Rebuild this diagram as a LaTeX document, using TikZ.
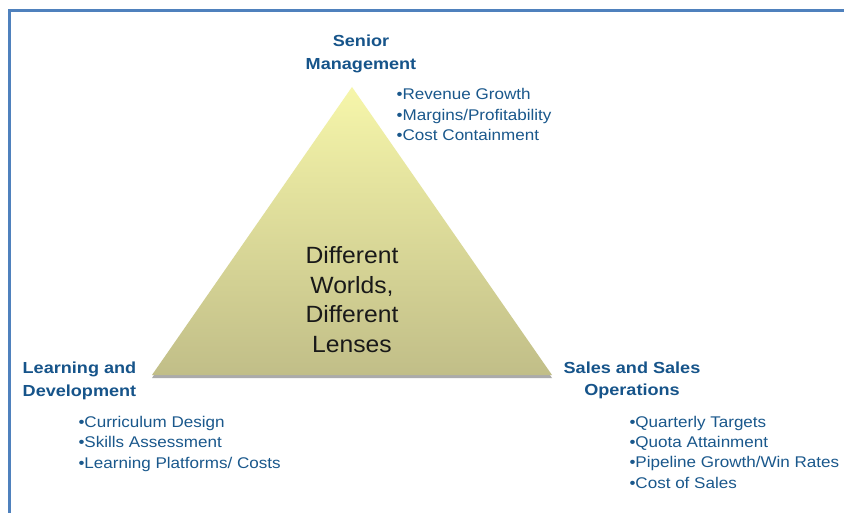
\documentclass[tikz,border=0pt]{standalone}
\usepackage{fontspec}
\setmainfont{Liberation Sans}
\newfontfamily\lblfont[FakeStretch=1.13]{Liberation Sans}
\newfontfamily\itemfont[FakeStretch=1.1]{Liberation Sans}
\newfontfamily\corefont[FakeStretch=1.05]{Liberation Sans}
\usetikzlibrary{shadows}
\definecolor{frameblue}{RGB}{79,129,189}
\definecolor{labelblue}{RGB}{22,84,138}
\definecolor{itemblue}{RGB}{26,88,140}
\definecolor{pyrtop}{RGB}{246,246,170}
\definecolor{pyrbot}{RGB}{193,190,136}
\definecolor{coretext}{RGB}{25,25,25}
\tikzset{
  heading/.style={inner sep=0pt, align=center, text=labelblue,
    font={\lblfont\bfseries\fontsize{16}{22.5}\selectfont}},
  itemlist/.style={inner sep=0pt, align=left, text=itemblue, anchor=base west,
    font={\itemfont\fontsize{15.5}{20.4}\selectfont}},
  coretitle/.style={inner sep=0pt, align=center, text=coretext, anchor=base,
    font={\corefont\fontsize{23.5}{29.8}\selectfont}},
  frameline/.style={draw=frameblue, line width=3pt},
  pyramid/.style={top color=pyrtop, bottom color=pyrbot,
    drop shadow={shadow xshift=0pt, shadow yshift=-3pt, opacity=0.5, fill=black!65}}
}
\begin{document}
\begin{tikzpicture}[x=1pt, y=-1pt]
\useasboundingbox (0,0) rectangle (844,513);
\fill[white] (0,0) rectangle (844,513);

% frame corner
\coordinate (fr) at (844,11);
\coordinate (fc) at (9,11);
\coordinate (fb) at (9,513);
\draw[frameline] (fr) -- (fc) -- (fb);

% pyramid
\coordinate (apex) at (352,87);
\coordinate (bl) at (152,375);
\coordinate (br) at (552,375);
\path[pyramid] (apex) -- (br) -- (bl) -- cycle;

% multi-line nodes are placed by the baseline of their last line
\node[coretitle] (core) at (352,352.7)
  {Different\\Worlds,\\Different\\Lenses};

% corner headings
\node[heading, anchor=base] (senior) at (361,69.3) {Senior\\Management};
\node[heading, anchor=base west, align=left] (learn) at (22.5,396)
  {Learning and\\Development};
\node[heading, anchor=base] (sales) at (632,395.5) {Sales and Sales\\Operations};

% item lists
\node[itemlist] (seniorlist) at (396.5,140.7)
  {•Revenue Growth\\•Margins/Profitability\\•Cost Containment};
\node[itemlist] (learnlist) at (78.3,468.3)
  {•Curriculum Design\\•Skills Assessment\\•Learning Platforms/ Costs};
\node[itemlist] (saleslist) at (629.3,488.3)
  {•Quarterly Targets\\•Quota Attainment\\•Pipeline Growth/Win Rates\\•Cost of Sales};
\end{tikzpicture}
\end{document}
